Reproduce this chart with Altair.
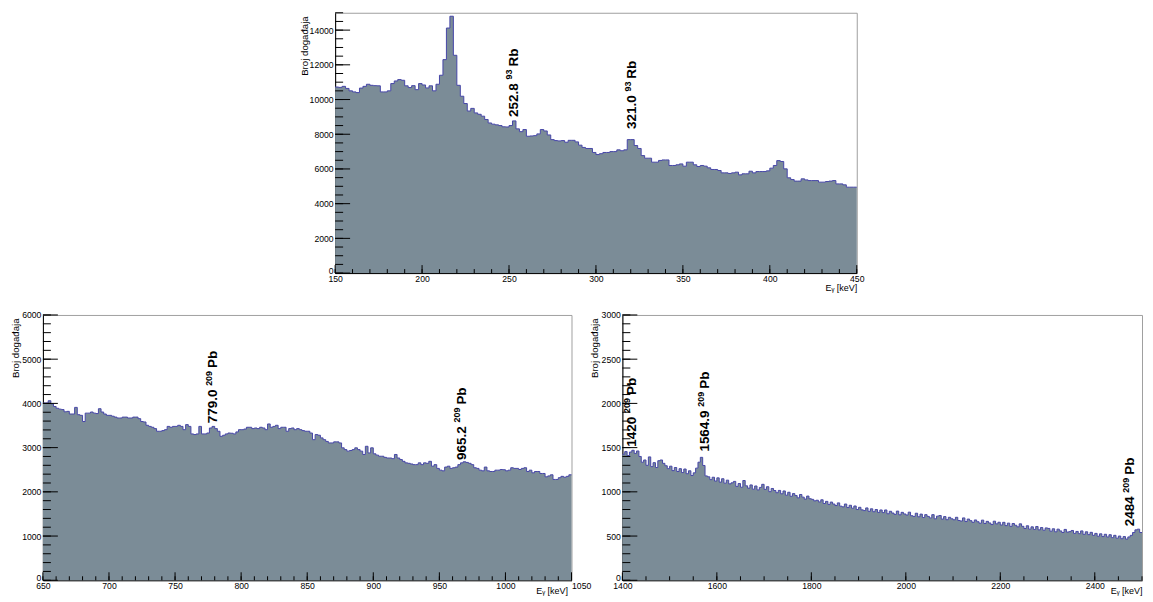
import altair as alt
import pandas as pd

FONT = "Liberation Sans"
FILL = "#7b8c97"
LINE = "#4646a8"

# ---------------- top panel: 150-450 keV, 2 keV bins ----------------
top_start, top_step = 150, 2
top_counts = [
    10720, 10700, 10760, 10640, 10500, 10440, 10400, 10660, 10760, 10880,
    10820, 10800, 10790, 10440, 10440, 10500, 10920, 11070, 11150, 11110,
    10790, 10690, 10800, 10570, 10920, 10840, 10670, 10790, 10500, 10880,
    11400, 12300, 14120, 14800, 12550, 10820, 10190, 9770, 9340, 9490,
    9230, 9150, 9040, 8850, 8650, 8580, 8540, 8500, 8430, 8420,
    8500, 8770, 8310, 8150, 8270, 7885, 7900, 7920, 8020, 8270,
    8190, 7960, 7690, 7635, 7615, 7635, 7540, 7650, 7650, 7560,
    7370, 7240, 7180, 7180, 6950, 6830, 6880, 6950, 6950, 7000,
    7000, 7100, 7050, 7100, 7690, 7690, 7350, 7180, 6770, 6620,
    6620, 6390, 6390, 6490, 6520, 6520, 6200, 6200, 6240, 6290,
    6160, 6390, 6390, 6240, 6140, 6200, 6160, 6065, 5970, 5970,
    5910, 5775, 5775, 5740, 5775, 5815, 5660, 5720, 5720, 5870,
    5775, 5850, 5850, 5850, 5890, 6045, 6200, 6480, 6430, 6005,
    5490, 5390, 5300, 5300, 5430, 5370, 5330, 5330, 5330, 5240,
    5240, 5275, 5300, 5330, 5140, 5140, 5085, 4950, 4950, 4950,
]
top_xdomain = [150, 450]
top_ydomain = [0, 15000]
top_xmajor = list(range(150, 451, 50))
top_xminor = list(range(150, 451, 10))
top_ymajor = list(range(0, 14001, 2000))
top_yminor = list(range(0, 15001, 500))
top_lab_x = [252.8, 321.0]
top_lab_y = [9000, 8300]
top_lab_num = ["252.8", "321.0"]
top_lab_iso = ["93", "93"]
top_lab_el = ["Rb", "Rb"]

# ---------------- bottom left: 650-1050 keV, 2 keV bins ----------------
bl_start, bl_step = 650, 2
bl_counts = [
    4010, 4010, 4060, 3990, 3930, 3890, 3870, 3860, 3810, 3820,
    3760, 3760, 3910, 3745, 3730, 3590, 3780, 3780, 3805, 3780,
    3770, 3880, 3805, 3760, 3730, 3730, 3710, 3690, 3670, 3670,
    3690, 3690, 3670, 3670, 3690, 3690, 3655, 3590, 3580, 3505,
    3480, 3460, 3430, 3370, 3370, 3385, 3406, 3480, 3460, 3480,
    3480, 3505, 3480, 3406, 3520, 3480, 3310, 3295, 3310, 3480,
    3310, 3310, 3330, 3444, 3480, 3430, 3370, 3256, 3280, 3310,
    3330, 3325, 3310, 3355, 3406, 3406, 3420, 3460, 3460, 3430,
    3444, 3430, 3460, 3444, 3406, 3535, 3460, 3480, 3505, 3430,
    3460, 3460, 3370, 3430, 3444, 3406, 3430, 3406, 3385, 3370,
    3370, 3330, 3180, 3295, 3280, 3220, 3180, 3140, 3106, 3106,
    3130, 3130, 3106, 2995, 2955, 2920, 2935, 2955, 2995, 2955,
    2920, 2845, 3030, 2880, 2995, 2860, 2830, 2805, 2805, 2780,
    2765, 2765, 2750, 2845, 2765, 2730, 2690, 2655, 2645, 2630,
    2615, 2615, 2655, 2615, 2655, 2645, 2690, 2580, 2615, 2530,
    2490, 2475, 2560, 2580, 2530, 2545, 2560, 2615, 2655, 2680,
    2665, 2645, 2615, 2545, 2530, 2490, 2475, 2560, 2475, 2460,
    2460, 2490, 2490, 2505, 2500, 2475, 2490, 2545, 2530, 2530,
    2505, 2530, 2545, 2460, 2490, 2430, 2460, 2460, 2415, 2415,
    2340, 2360, 2385, 2280, 2280, 2320, 2350, 2330, 2350, 2385,
]
bl_xdomain = [650, 1050]
bl_ydomain = [0, 6000]
bl_xmajor = list(range(650, 1051, 50))
bl_xminor = list(range(650, 1051, 10))
bl_ymajor = list(range(0, 6001, 1000))
bl_yminor = list(range(0, 6001, 200))
bl_lab_x = [779.0, 967.0]
bl_lab_y = [3550, 2720]
bl_lab_num = ["779.0", "965.2"]
bl_lab_iso = ["209", "209"]
bl_lab_el = ["Pb", "Pb"]

# ---------------- bottom right: 1400-2500 keV, 5 keV bins ----------------
br_start, br_step = 1400, 5
br_counts = [
    1425, 1455, 1410, 1450, 1470, 1435, 1462, 1400, 1335, 1360,
    1300, 1395, 1285, 1330, 1275, 1352, 1360, 1322, 1295, 1262,
    1290, 1240, 1275, 1230, 1262, 1218, 1258, 1205, 1238, 1185,
    1215, 1268, 1335, 1390, 1298, 1180, 1170, 1138, 1165, 1122,
    1158, 1110, 1148, 1098, 1132, 1090, 1102, 1118, 1062, 1094,
    1052, 1128, 1068, 1042, 1078, 1030, 1066, 1022, 1050, 1085,
    1028, 1058, 1002, 1038, 1015, 990, 1016, 978, 1010, 962,
    995, 950, 980, 958, 932, 970, 940, 918, 952, 922,
    915, 898, 905, 886, 910, 868, 892, 858, 884, 862,
    845, 875, 838, 830, 862, 822, 848, 815, 840, 800,
    825, 796, 788, 818, 780, 808, 775, 800, 768, 795,
    765, 795, 752, 780, 760, 745, 782, 740, 768, 750,
    738, 770, 730, 722, 758, 718, 748, 710, 742, 722,
    705, 742, 695, 725, 732, 692, 720, 685, 712, 695,
    684, 712, 676, 670, 705, 664, 692, 674, 655, 682,
    662, 645, 680, 642, 666, 648, 630, 668, 638, 656,
    625, 655, 618, 646, 610, 642, 622, 604, 638, 610,
    585, 616, 578, 604, 575, 608, 570, 596, 566, 592,
    586, 555, 582, 548, 578, 558, 540, 575, 545, 550,
    563, 530, 552, 527, 558, 520, 548, 516, 542, 508,
    530, 498, 525, 494, 520, 490, 515, 482, 508, 476,
    500, 470, 494, 466, 490, 508, 540, 570, 578, 540,
]
br_xdomain = [1400, 2500]
br_ydomain = [0, 3000]
br_xmajor = list(range(1400, 2401, 200))
br_xminor = list(range(1400, 2501, 50))
br_ymajor = list(range(0, 3001, 500))
br_yminor = list(range(0, 3001, 100))
br_lab_x = [1420, 1575, 2475]
br_lab_y = [1510, 1455, 610]
br_lab_num = ["1420", "1564.9", "2484"]
br_lab_iso = ["209", "209", "209"]
br_lab_el = ["Pb", "Pb", "Pb"]

Y_TITLE = "Broj doga\u0111aja"
X_TITLE = "E\u1d67 [keV]"

NUM_SIZE = 13.5
SUP_SIZE = 9


def str_width(s, size):
    # Liberation Sans Bold advance widths (em units)
    w = 0.0
    for ch in s:
        w += 0.278 if ch in ". " else 0.556
    return w * size


def panel(start, step, counts, xdom, ydom, xmaj, xmin, ymaj, ymin,
          lab_x, lab_y, lab_num, lab_iso, lab_el, W, H, ytitle_x, xtitle_y,
          xtitle_inset=0, last_label_left=False):
    edges = [start + i * step for i in range(len(counts))] + [xdom[1]]
    hist = pd.DataFrame({"e": edges, "c": list(counts) + [counts[-1]]})
    xs = alt.Scale(domain=xdom, nice=False, zero=False)
    ys = alt.Scale(domain=ydom, nice=False, zero=False)
    xaxis_kw = {}
    if last_label_left:
        xaxis_kw["labelAlign"] = {
            "condition": {"test": "datum.value === %d" % xdom[1], "value": "left"},
            "value": "center"}
    xaxis = alt.Axis(values=xmaj, format="d", ticks=False, grid=False,
                     domainColor="black", domainWidth=1,
                     labelFont=FONT, labelFontSize=8.7, labelColor="black",
                     labelPadding=1, labelFlush=False, labelOverlap=False,
                     title=X_TITLE, titleFont=FONT, titleFontSize=9,
                     titleFontWeight="normal", titleColor="black",
                     titleX=W - xtitle_inset, titleY=xtitle_y, titleAlign="right",
                     titleBaseline="alphabetic", **xaxis_kw)
    yaxis = alt.Axis(values=ymaj, format="d", ticks=False, grid=False,
                     domainColor="black", domainWidth=1,
                     labelFont=FONT, labelFontSize=8.7, labelColor="black",
                     labelPadding=2, labelFlush=False, labelOverlap=False,
                     labelBaseline={"condition": {"test": "datum.value === 0",
                                                  "value": "alphabetic"},
                                    "value": "middle"},
                     title=Y_TITLE, titleFont=FONT, titleFontSize=9.7,
                     titleFontWeight="normal", titleColor="black",
                     titleAngle=270, titleX=ytitle_x, titleY=3,
                     titleAlign="right", titleBaseline="middle")
    X = lambda f: alt.X(f, scale=xs, axis=xaxis)
    Y = lambda f: alt.Y(f, scale=ys, axis=yaxis)

    base = alt.Chart(hist)
    area = base.mark_area(interpolate="step-after", color=FILL, opacity=1).encode(
        x=X("e:Q"), y=Y("c:Q"))
    line = base.mark_line(interpolate="step-after", color=LINE, strokeWidth=1).encode(
        x=X("e:Q"), y=Y("c:Q"))

    layers = [area, line]
    for vals, length in ((xmin, 4), (xmaj, 8)):
        layers.append(alt.Chart(pd.DataFrame({"e": vals})).mark_rule(
            color="black", strokeWidth=1).encode(
            x=X("e:Q"), y=alt.value(H), y2=alt.value(H - length)))
    for vals, length in ((ymin, 8), (ymaj, 15)):
        layers.append(alt.Chart(pd.DataFrame({"c": vals})).mark_rule(
            color="black", strokeWidth=1).encode(
            y=Y("c:Q"), x=alt.value(0), x2=alt.value(length)))

    for xv, yv, num, iso, el in zip(lab_x, lab_y, lab_num, lab_iso, lab_el):
        row = pd.DataFrame({"e": [xv], "c": [yv], "n": [num], "i": [iso], "l": [el]})
        w_num = str_width(num, NUM_SIZE)
        w_sp = 0.278 * NUM_SIZE
        w_iso = str_width(iso, SUP_SIZE)
        common = dict(angle=270, align="left", baseline="middle", font=FONT,
                      fontWeight="bold", color="black")
        layers.append(alt.Chart(row).mark_text(fontSize=NUM_SIZE, **common).encode(
            x=X("e:Q"), y=Y("c:Q"), text="n:N"))
        layers.append(alt.Chart(row).mark_text(
            fontSize=SUP_SIZE, dx=w_num + w_sp, dy=-4.5, **common).encode(
            x=X("e:Q"), y=Y("c:Q"), text="i:N"))
        layers.append(alt.Chart(row).mark_text(
            fontSize=NUM_SIZE, dx=w_num + w_sp + w_iso + 3, **common).encode(
            x=X("e:Q"), y=Y("c:Q"), text="l:N"))

    return alt.layer(*layers).properties(width=W, height=H)


top = panel(top_start, top_step, top_counts, top_xdomain, top_ydomain,
            top_xmajor, top_xminor, top_ymajor, top_yminor,
            top_lab_x, top_lab_y, top_lab_num, top_lab_iso, top_lab_el,
            523, 261, -31, 17)
bl = panel(bl_start, bl_step, bl_counts, bl_xdomain, bl_ydomain,
           bl_xmajor, bl_xminor, bl_ymajor, bl_yminor,
           bl_lab_x, bl_lab_y, bl_lab_num, bl_lab_iso, bl_lab_el,
           530, 266, -27, 13.5, xtitle_inset=4, last_label_left=True)
br = panel(br_start, br_step, br_counts, br_xdomain, br_ydomain,
           br_xmajor, br_xminor, br_ymajor, br_yminor,
           br_lab_x, br_lab_y, br_lab_num, br_lab_iso, br_lab_el,
           521, 266, -28, 13.5)

SPACER_W = 293
spacer = alt.Chart(pd.DataFrame({"a": [0]})).mark_rect(opacity=0).encode(
    x=alt.value(0), x2=alt.value(SPACER_W), y=alt.value(0), y2=alt.value(2)
).properties(width=SPACER_W, height=10, view=alt.ViewBackground(strokeOpacity=0))

top_row = alt.hconcat(spacer, top, spacing=0, bounds="flush")
bottom_row = alt.hconcat(bl, br, spacing=51, bounds="flush")

chart = alt.vconcat(top_row, bottom_row, spacing=17).properties(
    padding={"left": 2, "top": 3, "right": 0, "bottom": 0},
    background="white",
).configure_view(stroke="#a0a0a0", strokeWidth=1)

chart.save("out.html", embed_options={"renderer": "svg", "actions": False})
